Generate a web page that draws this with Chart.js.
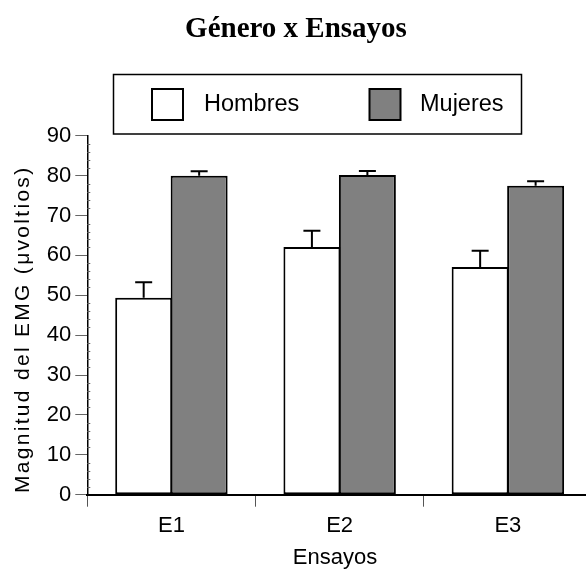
<!DOCTYPE html>
<html>
<head>
<meta charset="utf-8">
<script src="https://cdn.jsdelivr.net/npm/chart.js@4/dist/chart.umd.min.js"></script>
<style>
  html, body { margin: 0; padding: 0; background: #fff; overflow: hidden; }
</style>
</head>
<body>
<canvas id="chart" width="592" height="574"></canvas>
<script>
const categories = ["E1", "E2", "E3"];
const hombres = [49.4, 62.1, 57.1];
const hombresErr = [3.9, 4.1, 4.1];
const mujeres = [80.0, 80.2, 77.5];
const mujeresErr = [1.1, 1.0, 1.1];
const yTicks = [0, 10, 20, 30, 40, 50, 60, 70, 80, 90];

const SANS = "'Liberation Sans', Arial, sans-serif";
const SERIF = "'Liberation Serif', 'Times New Roman', serif";

// upward error bars with a cap
const errorBars = {
  id: "errorBars",
  afterDatasetsDraw(chart) {
    const ctx = chart.ctx;
    const y = chart.scales.y;
    ctx.save();
    ctx.strokeStyle = "#000";
    ctx.lineWidth = 2;
    chart.data.datasets.forEach((ds, i) => {
      chart.getDatasetMeta(i).data.forEach((bar, j) => {
        const top = y.getPixelForValue(ds.data[j] + ds.errors[j]);
        ctx.beginPath();
        ctx.moveTo(bar.x, bar.y);
        ctx.lineTo(bar.x, top);
        ctx.moveTo(bar.x - 8.5, top);
        ctx.lineTo(bar.x + 8.5, top);
        ctx.stroke();
      });
    });
    ctx.restore();
  }
};

// minor ticks inside the y axis, axis titles, boxed legend
const extras = {
  id: "extras",
  afterDraw(chart) {
    const ctx = chart.ctx;
    const y = chart.scales.y;
    const ax = chart.chartArea.left;
    ctx.save();
    ctx.strokeStyle = "#666";
    ctx.lineWidth = 1;
    for (let v = 2; v < 90; v += 2) {
      if (v % 10 === 0) continue;
      const py = Math.round(y.getPixelForValue(v)) + 0.5;
      ctx.beginPath();
      ctx.moveTo(ax, py);
      ctx.lineTo(ax + 3, py);
      ctx.stroke();
    }

    ctx.fillStyle = "#000";
    // x axis title
    ctx.font = "22px " + SANS;
    ctx.textAlign = "center";
    ctx.textBaseline = "middle";
    ctx.fillText("Ensayos", 335, 558);

    // y axis title
    ctx.save();
    ctx.translate(23.5, 493);
    ctx.rotate(-Math.PI / 2);
    ctx.font = "21px " + SANS;
    ctx.textAlign = "left";
    ctx.textBaseline = "middle";
    ctx.letterSpacing = "2.3px";
    ctx.fillText("Magnitud del EMG (\u03bcvoltios)", 0, 0);
    ctx.restore();

    // legend
    ctx.strokeStyle = "#000";
    ctx.lineWidth = 1.5;
    ctx.strokeRect(113.5, 74.5, 408, 59.5);
    const items = [
      { x: 152, tx: 204 },
      { x: 369.5, tx: 420 }
    ];
    ctx.font = "23.5px " + SANS;
    ctx.textBaseline = "middle";
    ctx.textAlign = "left";
    chart.data.datasets.forEach((ds, i) => {
      const it = items[i];
      ctx.fillStyle = ds.backgroundColor;
      ctx.fillRect(it.x, 89, 31, 31);
      ctx.strokeStyle = "#000";
      ctx.lineWidth = 2;
      ctx.strokeRect(it.x, 89, 31, 31);
      ctx.fillStyle = "#000";
      ctx.fillText(ds.label, it.tx, 105);
    });
    ctx.restore();
  }
};

new Chart(document.getElementById("chart"), {
  type: "bar",
  data: {
    labels: categories,
    datasets: [
      {
        label: "Hombres",
        data: hombres,
        errors: hombresErr,
        backgroundColor: "#ffffff",
        borderColor: "#000000",
        borderWidth: 2,
        borderSkipped: false
      },
      {
        label: "Mujeres",
        data: mujeres,
        errors: mujeresErr,
        backgroundColor: "#808080",
        borderColor: "#000000",
        borderWidth: 2,
        borderSkipped: false
      }
    ]
  },
  options: {
    responsive: false,
    animation: false,
    devicePixelRatio: 1,
    layout: { padding: 0 },
    categoryPercentage: 0.6595,
    barPercentage: 1.027,
    plugins: {
      legend: { display: false },
      tooltip: { enabled: false },
      title: {
        display: true,
        text: "G\u00e9nero x Ensayos",
        color: "#000",
        font: { family: SERIF, size: 29, weight: "bold" },
        padding: { top: 12, bottom: 89 }
      }
    },
    scales: {
      x: {
        afterFit(s) { s.height = 79.3; },
        grid: {
          offset: true,
          drawOnChartArea: false,
          tickLength: 12,
          color: "#555",
          lineWidth: 1
        },
        border: { color: "#000", width: 2 },
        ticks: {
          color: "#000",
          padding: 6,
          font: { family: SANS, size: 22 }
        },
        title: { display: false }
      },
      y: {
        min: 0,
        max: 90,
        afterFit(s) { s.width = 87.3; },
        afterBuildTicks(s) { s.ticks = yTicks.map(v => ({ value: v })); },
        grid: {
          drawOnChartArea: false,
          tickLength: 12,
          color: "#666",
          lineWidth: 1
        },
        border: { color: "#000", width: 1.5 },
        ticks: {
          color: "#000",
          padding: 4,
          font: { family: SANS, size: 22 }
        },
        title: { display: false }
      }
    }
  },
  plugins: [errorBars, extras]
});
</script>
</body>
</html>
